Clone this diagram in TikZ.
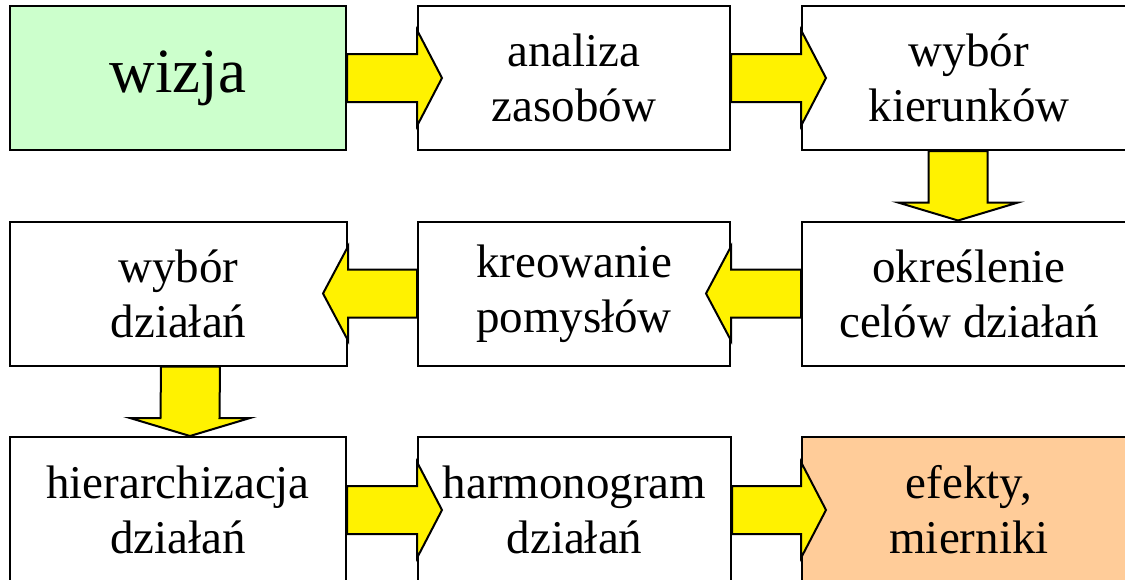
\documentclass[tikz,border=0pt]{standalone}
\usepackage{fontspec}
\setmainfont{Liberation Serif}
\usetikzlibrary{calc}

\definecolor{wizjagreen}{HTML}{CCFFCC}
\definecolor{efektpeach}{HTML}{FFCC99}

\tikzset{
  box/.style={draw=black, line width=2pt, fill=white, align=center,
    minimum height=144pt, inner sep=0pt, font=\fontsize{47}{55}\selectfont},
  yarrow/.style={fill=yellow, draw=black, line width=2pt, line join=miter},
}

% strzalki blokowe
\newcommand{\arrowR}[2]{%
  \draw[yarrow] ($(#1.east)+(0,-24)$) -- ($(#2.west)+(0,-24)$) -- ($(#2.west)+(0,-48)$)
    -- ($(#2.west)+(25,0)$) -- ($(#2.west)+(0,48)$) -- ($(#2.west)+(0,24)$)
    -- ($(#1.east)+(0,24)$) -- cycle;}
\newcommand{\arrowL}[2]{%
  \draw[yarrow] ($(#1.west)+(0,-24)$) -- ($(#2.east)+(0,-24)$) -- ($(#2.east)+(0,-47)$)
    -- ($(#2.east)+(-25,0)$) -- ($(#2.east)+(0,47)$) -- ($(#2.east)+(0,24)$)
    -- ($(#1.west)+(0,24)$) -- cycle;}
\newcommand{\arrowD}[3]{%
  \draw[yarrow] ($(#1.south)+(#3-29.5,0)$) -- ($(#2.north)+(#3-29.5,-18)$)
    -- ($(#2.north)+(#3-60,-18)$) -- ($(#2.north)+(#3,0)$) -- ($(#2.north)+(#3+60,-18)$)
    -- ($(#2.north)+(#3+29.5,-18)$) -- ($(#1.south)+(#3+29.5,0)$) -- cycle;}

\begin{document}
\begin{tikzpicture}[x=1pt, y=-1pt]
    \useasboundingbox (0,0) rectangle (1125,579);

    % pierwszy wiersz
    \node[box, fill=wizjagreen, minimum width=336pt, font=\fontsize{63}{70}\selectfont] (wizja) at (178,78) {wizja};
    \node[box, minimum width=312pt] (analiza) at (574,78) {analiza\\zasobów};
    \node[box, minimum width=334pt] (kierunki) at (969,78) {wybór\\kierunków};

    % drugi wiersz
    \node[box, minimum width=337pt] (dzialania) at (178.5,293.5) {wybór\\działań};
    \node[box, minimum width=312pt] (pomysly) at (574,293.5) {kreowanie\\pomysłów};
    \node[box, minimum width=334pt] (cele) at (969,293.5) {określenie\\celów działań};

    % trzeci wiersz
    \node[box, minimum width=336pt, minimum height=146pt] (hierarchia) at (178,510) {hierarchizacja\\działań};
    \node[box, minimum width=313pt, minimum height=146pt] (harmonogram) at (574.5,510) {harmonogram\\działań};
    \node[box, fill=efektpeach, minimum width=334pt, minimum height=146pt] (efekty) at (969,510) {efekty,\\mierniki};

    % strzalki
    \arrowR{wizja}{analiza}
    \arrowR{analiza}{kierunki}
    \arrowD{kierunki}{cele}{-11}
    \arrowL{cele}{pomysly}
    \arrowL{pomysly}{dzialania}
    \arrowD{dzialania}{hierarchia}{12}
    \arrowR{hierarchia}{harmonogram}
    \arrowR{harmonogram}{efekty}
\end{tikzpicture}
\end{document}
